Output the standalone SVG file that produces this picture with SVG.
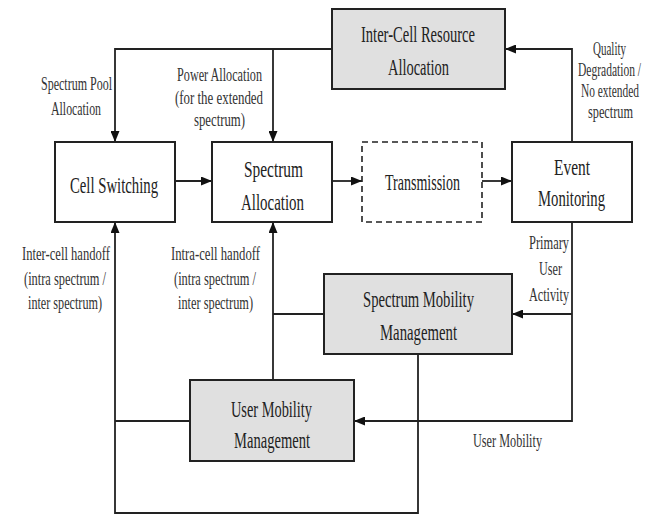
<svg xmlns="http://www.w3.org/2000/svg" width="662" height="515" viewBox="0 0 662 515">
<style>
.box{fill:#fff;stroke:#222;stroke-width:2}
.gbox{fill:#e0e0e0;stroke:#222;stroke-width:2}
.dash{fill:#fff;stroke:#222;stroke-width:1.6;stroke-dasharray:6,4}
.t{font-family:"Liberation Serif","Times New Roman",serif;font-size:24px;fill:#222}
.l{font-family:"Liberation Serif","Times New Roman",serif;font-size:19px;fill:#333}
.c{fill:none;stroke:#222;stroke-width:1.8}
</style>
<defs>
<marker id="ah" markerWidth="11" markerHeight="9" refX="11" refY="4.5" orient="auto" markerUnits="userSpaceOnUse">
<path d="M0,0 L11,4.5 L0,9 z" fill="#111"/>
</marker>
</defs>
<rect width="662" height="515" fill="#fff"/>
<g id="connectors">
<path class="c" d="M332,49 H115 V142" marker-end="url(#ah)"/>
<path class="c" d="M273,49 V142" marker-end="url(#ah)"/>
<path class="c" d="M572,142 V49 H505" marker-end="url(#ah)"/>
<path class="c" d="M175,181 H212" marker-end="url(#ah)"/>
<path class="c" d="M332,181 H362" marker-end="url(#ah)"/>
<path class="c" d="M482,181 H512" marker-end="url(#ah)"/>
<path class="c" d="M572,222 V421 H354" marker-end="url(#ah)"/>
<path class="c" d="M572,314 H512" marker-end="url(#ah)"/>
<path class="c" d="M418,354 V513 H115 V222" marker-end="url(#ah)"/>
<path class="c" d="M190,421 H115"/>
<path class="c" d="M273,380 V222" marker-end="url(#ah)"/>
<path class="c" d="M324,314 H273"/>
</g>
<g id="labels">
<text class="l" x="41" y="90" textLength="71" lengthAdjust="spacingAndGlyphs">Spectrum Pool</text>
<text class="l" x="51" y="115" textLength="50" lengthAdjust="spacingAndGlyphs">Allocation</text>
<text class="l" x="177" y="81" textLength="85" lengthAdjust="spacingAndGlyphs">Power Allocation</text>
<text class="l" x="175" y="104" textLength="88" lengthAdjust="spacingAndGlyphs">(for the extended</text>
<text class="l" x="194" y="126" textLength="51" lengthAdjust="spacingAndGlyphs">spectrum)</text>
<text class="l" x="593" y="55" textLength="33" lengthAdjust="spacingAndGlyphs">Quality</text>
<text class="l" x="578" y="76" textLength="63" lengthAdjust="spacingAndGlyphs">Degradation /</text>
<text class="l" x="581" y="97" textLength="58" lengthAdjust="spacingAndGlyphs">No extended</text>
<text class="l" x="588" y="118" textLength="45" lengthAdjust="spacingAndGlyphs">spectrum</text>
<text class="l" x="22" y="260" textLength="88" lengthAdjust="spacingAndGlyphs">Inter-cell handoff</text>
<text class="l" x="24" y="285" textLength="82" lengthAdjust="spacingAndGlyphs">(intra spectrum /</text>
<text class="l" x="28" y="309" textLength="74" lengthAdjust="spacingAndGlyphs">inter spectrum)</text>
<text class="l" x="171" y="260" textLength="89" lengthAdjust="spacingAndGlyphs">Intra-cell handoff</text>
<text class="l" x="174" y="285" textLength="82" lengthAdjust="spacingAndGlyphs">(intra spectrum /</text>
<text class="l" x="178" y="309" textLength="75" lengthAdjust="spacingAndGlyphs">inter spectrum)</text>
<text class="l" x="529" y="249" textLength="40" lengthAdjust="spacingAndGlyphs">Primary</text>
<text class="l" x="539" y="275" textLength="23" lengthAdjust="spacingAndGlyphs">User</text>
<text class="l" x="529" y="301" textLength="40" lengthAdjust="spacingAndGlyphs">Activity</text>
<text class="l" x="473" y="447" textLength="69" lengthAdjust="spacingAndGlyphs">User Mobility</text>
</g>
<g id="inter-cell-resource-allocation">
<rect class="gbox" x="332" y="9" width="173" height="80"/>
<text class="t" x="361" y="42" textLength="114" lengthAdjust="spacingAndGlyphs">Inter-Cell Resource</text>
<text class="t" x="388" y="75" textLength="61" lengthAdjust="spacingAndGlyphs">Allocation</text>
</g>
<g id="cell-switching">
<rect class="box" x="55" y="142" width="120" height="80"/>
<text class="t" x="70" y="193" textLength="88" lengthAdjust="spacingAndGlyphs">Cell Switching</text>
</g>
<g id="spectrum-allocation">
<rect class="box" x="212" y="142" width="120" height="80"/>
<text class="t" x="244" y="177" textLength="59" lengthAdjust="spacingAndGlyphs">Spectrum</text>
<text class="t" x="241" y="210" textLength="63" lengthAdjust="spacingAndGlyphs">Allocation</text>
</g>
<g id="transmission">
<rect class="dash" x="362" y="142" width="120" height="80"/>
<text class="t" x="385" y="190" textLength="75" lengthAdjust="spacingAndGlyphs">Transmission</text>
</g>
<g id="event-monitoring">
<rect class="box" x="512" y="142" width="120" height="80"/>
<text class="t" x="554" y="175" textLength="36" lengthAdjust="spacingAndGlyphs">Event</text>
<text class="t" x="538" y="206" textLength="67" lengthAdjust="spacingAndGlyphs">Monitoring</text>
</g>
<g id="spectrum-mobility-management">
<rect class="gbox" x="324" y="274" width="188" height="80"/>
<text class="t" x="363" y="307" textLength="111" lengthAdjust="spacingAndGlyphs">Spectrum Mobility</text>
<text class="t" x="380" y="340" textLength="77" lengthAdjust="spacingAndGlyphs">Management</text>
</g>
<g id="user-mobility-management">
<rect class="gbox" x="190" y="380" width="164" height="81"/>
<text class="t" x="231" y="417" textLength="81" lengthAdjust="spacingAndGlyphs">User Mobility</text>
<text class="t" x="234" y="448" textLength="76" lengthAdjust="spacingAndGlyphs">Management</text>
</g>
</svg>
